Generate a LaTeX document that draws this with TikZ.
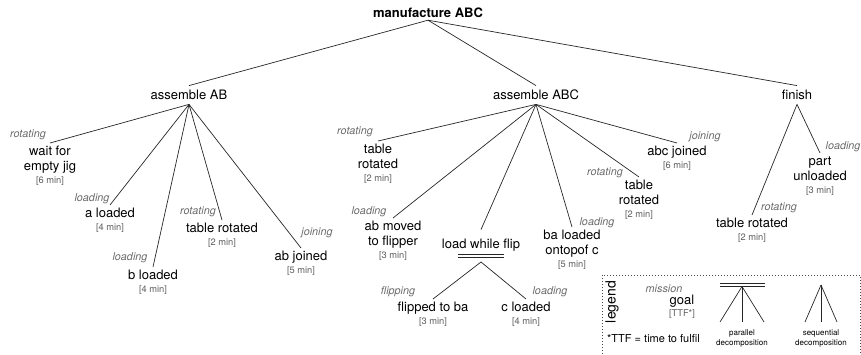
\documentclass[tikz,border=0pt]{standalone}
\usepackage{fontspec}
\setmainfont{TeX Gyre Heros}
\usetikzlibrary{positioning}
\definecolor{missgray}{HTML}{6A6A6A}
\definecolor{ttfgray}{HTML}{5E5E5E}
\tikzset{
  dec/.style    ={font=\fontsize{13}{15}\selectfont, text height=9.4pt,
                  text depth=0pt, inner sep=4.5pt},
  goal/.style   ={anchor=north, align=center, font=\fontsize{13}{15}\selectfont,
                  inner sep=2.5pt},
  ttf/.style    ={font=\fontsize{9.3}{11}\selectfont, text=ttfgray,
                  text height=6.7pt, text depth=0pt, inner sep=1pt},
  mission/.style={font=\fontsize{10.8}{12}\selectfont\itshape, text=missgray,
                  inner sep=1pt},
  link/.style   ={draw=black!85, line width=0.7pt},
  legendbox/.style={draw=black!70, line width=1pt, dotted},
  smalltxt/.style={font=\fontsize{8}{10}\selectfont, align=center, inner sep=0pt},
}
% one goal: text, time to fulfil below, mission label beside it
% (struts keep the first and last line of every goal the same height/depth)
\newcommand{\goal}[6]{% #1 = name, #2 = top point, #3 = text, #4 = minutes, #5 = mission, #6 = mission spot
  \node[goal] (#1) at #2 {\rule{0pt}{9.4pt}#3\rule[-3pt]{0pt}{3pt}};
  \node[ttf, below=0pt of #1] (#1t) {[#4 min]};
  \node[mission] (#1m) at #6 {#5};}

\begin{document}
\begin{tikzpicture}[x=1pt,y=-1pt]
\useasboundingbox (0,0) rectangle (861,355);

% decomposition levels
\node[dec, font=\fontsize{13}{15}\selectfont\bfseries, inner ysep=2.3pt] (mfg) at (428,13) {manufacture ABC};
\node[dec] (asmAB)  at (189,95) {assemble AB};
\node[dec] (asmABC) at (536,95) {assemble ABC};
\node[dec] (finish) at (797,95) {finish};
\node[dec, inner ysep=9.5pt] (lwf) at (481,244) {load while flip};

% leaf goals
\goal{wait}{(50,143)}{wait for\\empty jig}{6}{rotating}{(28,135)}
\goal{aload}{(110,205)}{a loaded}{4}{loading}{(92,199)}
\goal{bload}{(153,267)}{b loaded}{4}{loading}{(130,258)}
\goal{rotAB}{(222,220)}{table rotated}{2}{rotating}{(198,212)}
\goal{abjoin}{(301,248)}{ab joined}{5}{joining}{(317,233)}
\goal{rotC}{(378,141)}{table\\rotated}{2}{rotating}{(355,132)}
\goal{abmove}{(393,218)}{ab moved\\to flipper}{3}{loading}{(369,212)}
\goal{baload}{(572,227)}{ba loaded\\ontopof c}{5}{loading}{(597,223)}
\goal{rotCC}{(639,177)}{table\\rotated}{2}{rotating}{(605,173)}
\goal{abcjoin}{(677,143)}{abc joined}{6}{joining}{(705,137)}
\goal{flip}{(433,299)}{flipped to ba}{3}{flipping}{(398,292)}
\goal{cload}{(526,299)}{c loaded}{4}{loading}{(550,292)}
\goal{rotF}{(752,215)}{table rotated}{2}{rotating}{(779,208)}
\goal{unload}{(820,153)}{part\\unloaded}{3}{loading}{(843,147)}

% sequential decompositions
\foreach \c in {asmAB,asmABC,finish}
  \draw[link] (mfg.south) -- (\c.north);
\foreach \c in {wait,aload,bload,rotAB,abjoin}
  \draw[link] (asmAB.south) -- (\c.north);
\foreach \c in {rotC,abmove,lwf,baload,rotCC,abcjoin}
  \draw[link] (asmABC.south) -- (\c.north);
\foreach \c in {rotF,unload}
  \draw[link] (finish.south) -- (\c.north);

% parallel decomposition under load while flip
\draw[link] ([xshift=-23pt,yshift=-10pt]lwf.center) -- ++(46,0);
\draw[link] ([xshift=-23pt,yshift=-13.5pt]lwf.center) -- ++(46,0);
\coordinate (lwfj) at ([yshift=-18pt]lwf.center);
\foreach \c in {flip,cload}
  \draw[link] (lwfj) -- (\c.north);

% legend
\draw[legendbox] (602,357) -- (602,275) -- (860,275) -- (860,357);
\node[rotate=90, font=\fontsize{14}{14}\selectfont, inner sep=0pt] (legtitle) at (612,302) {legend};
\node[mission] (legmiss) at (664,289) {mission};
\node[font=\fontsize{13}{15}\selectfont, inner sep=0pt] (leggoal) at (682,301.5) {goal};
\node[ttf] (legttf) at (682,313) {[TTF*]};
\node[font=\fontsize{11}{13}\selectfont, anchor=west, inner sep=0pt] (legnote) at (607,339) {*TTF = time to fulfil};

\coordinate (parj) at (742,286.5);
\draw[link] (720,283) -- (765,283);
\draw[link] (720,286.5) -- (765,286.5);
\foreach \x in {720,742,764}
  \draw[link] (parj) -- (\x,322);
\node[smalltxt] (parlab) at (742,338) {parallel\\decomposition};

\coordinate (seqj) at (821,285);
\foreach \x in {805,821,837}
  \draw[link] (seqj) -- (\x,322);
\node[smalltxt] (seqlab) at (821,338) {sequential\\decomposition};
\end{tikzpicture}
\end{document}
